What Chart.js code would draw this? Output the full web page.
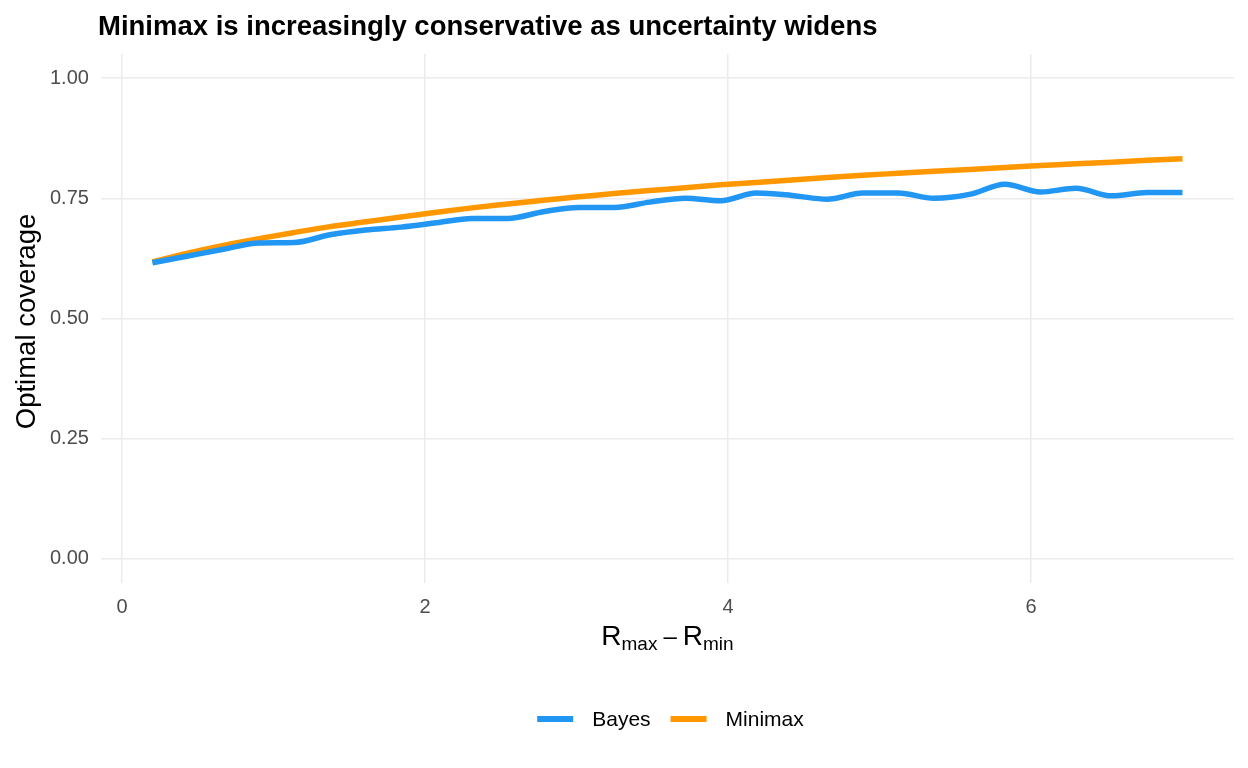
<!DOCTYPE html>
<html>
<head>
<meta charset="utf-8">
<script src="https://cdn.jsdelivr.net/npm/chart.js@4.4.1/dist/chart.umd.min.js"></script>
<style>
  html, body { margin: 0; padding: 0; background: #fff; }
  #wrap { position: relative; width: 1248px; height: 768px; }
</style>
</head>
<body>
<div id="wrap"><canvas id="chart" width="1248" height="768"></canvas></div>
<script>
// range of rewards (x) and optimal coverage per method
const rangeValues = [0.200, 0.434, 0.669, 0.903, 1.138, 1.372, 1.607, 1.841, 2.076, 2.310,
                     2.545, 2.779, 3.014, 3.248, 3.483, 3.717, 3.952, 4.186, 4.421, 4.655,
                     4.890, 5.124, 5.359, 5.593, 5.828, 6.062, 6.297, 6.531, 6.766, 7.000];
const bayesCoverage = [0.616, 0.630, 0.644, 0.657, 0.658, 0.674, 0.684, 0.690, 0.699, 0.708,
                       0.708, 0.722, 0.731, 0.731, 0.742, 0.750, 0.745, 0.761, 0.756, 0.748,
                       0.761, 0.761, 0.750, 0.758, 0.779, 0.763, 0.771, 0.755, 0.762, 0.762];
const minimaxCoverage = [0.618, 0.636, 0.652, 0.666, 0.679, 0.691, 0.701, 0.711, 0.721, 0.730,
                         0.738, 0.746, 0.753, 0.760, 0.766, 0.772, 0.778, 0.783, 0.788, 0.793,
                         0.798, 0.802, 0.806, 0.810, 0.814, 0.818, 0.822, 0.825, 0.829, 0.832];
const xTicks = [0, 2, 4, 6];
const yTicks = [0, 0.25, 0.5, 0.75, 1.0];

const FONT = '"Liberation Sans", Arial, sans-serif';

function toPoints(xs, ys) {
    return xs.map((x, i) => ({ x: x, y: ys[i] }));
}

// title, axis titles (x one has subscripts) and the bottom legend
const textPlugin = {
    id: 'textPlugin',
    afterDraw(chart) {
        const ctx = chart.ctx;
        const area = chart.chartArea;
        const mid = (area.left + area.right) / 2;
        ctx.save();
        ctx.fillStyle = '#000';
        ctx.textBaseline = 'alphabetic';
        ctx.textAlign = 'left';
        ctx.font = 'bold 27.5px ' + FONT;
        ctx.fillText('Minimax is increasingly conservative as uncertainty widens', 98, 35);

        // y title, rotated
        ctx.save();
        ctx.translate(27, (area.top + area.bottom) / 2 + 3);
        ctx.rotate(-Math.PI / 2);
        ctx.textAlign = 'center';
        ctx.textBaseline = 'middle';
        ctx.font = '27.5px ' + FONT;
        ctx.fillText('Optimal coverage', 0, 0);
        ctx.restore();

        // R_max - R_min
        const big = '28px ' + FONT, small = '19px ' + FONT, dash = '24px ' + FONT;
        const parts = [
            { t: 'R', f: big, dy: 0, pad: 0 },
            { t: 'max', f: small, dy: 5, pad: 0 },
            { t: '\u2013', f: dash, dy: -1, pad: 6 },
            { t: 'R', f: big, dy: 0, pad: 0 },
            { t: 'min', f: small, dy: 5, pad: 0 }
        ];
        let total = 0;
        parts.forEach(p => {
            ctx.font = p.f;
            p.w = ctx.measureText(p.t).width + 2 * p.pad;
            total += p.w;
        });
        let x = mid - total / 2;
        parts.forEach(p => {
            ctx.font = p.f;
            ctx.fillText(p.t, x + p.pad, 645 + p.dy);
            x += p.w;
        });

        // legend
        ctx.font = '21px ' + FONT;
        ctx.textBaseline = 'middle';
        const items = chart.data.datasets.map(ds => ({
            label: ds.label, color: ds.borderColor, w: ctx.measureText(ds.label).width
        }));
        const keyW = 36, gapText = 19, gapItem = 20;
        let legW = 0;
        items.forEach((it, i) => { legW += keyW + gapText + it.w + (i ? gapItem : 0); });
        let lx = mid - legW / 2 + 3;
        const ly = 719;
        items.forEach(it => {
            ctx.fillStyle = it.color;
            ctx.fillRect(lx, ly - 3, keyW, 6);
            ctx.fillStyle = '#000';
            ctx.fillText(it.label, lx + keyW + gapText, ly + 1);
            lx += keyW + gapText + it.w + gapItem;
        });
        ctx.restore();
    }
};

const ctx = document.getElementById('chart');
new Chart(ctx, {
    type: 'line',
    data: {
        datasets: [
            {
                label: 'Bayes',
                data: toPoints(rangeValues, bayesCoverage),
                borderColor: '#2196F3',
                backgroundColor: '#2196F3',
                borderWidth: 5.5,
                pointRadius: 0,
                cubicInterpolationMode: 'monotone'
            },
            {
                label: 'Minimax',
                data: toPoints(rangeValues, minimaxCoverage),
                borderColor: '#FF9800',
                backgroundColor: '#FF9800',
                borderWidth: 5.5,
                pointRadius: 0,
                cubicInterpolationMode: 'monotone'
            }
        ]
    },
    options: {
        responsive: false,
        animation: false,
        layout: { padding: { left: 38, right: 14, top: 54, bottom: 137 } },
        plugins: {
            title: { display: false },
            tooltip: { enabled: false },
            legend: { display: false }
        },
        scales: {
            x: {
                type: 'linear',
                min: -0.14,
                max: 7.34,
                afterBuildTicks: axis => { axis.ticks = xTicks.map(v => ({ value: v })); },
                grid: { color: '#ebebeb', lineWidth: 1.5, drawTicks: false },
                border: { display: false },
                ticks: {
                    color: '#4d4d4d',
                    font: { family: FONT, size: 20 },
                    padding: 12,
                    maxRotation: 0
                }
            },
            y: {
                min: -0.05,
                max: 1.05,
                afterBuildTicks: axis => { axis.ticks = yTicks.map(v => ({ value: v })); },
                grid: { color: '#ebebeb', lineWidth: 1.5, drawTicks: false },
                border: { display: false },
                ticks: {
                    color: '#4d4d4d',
                    font: { family: FONT, size: 20 },
                    padding: 12,
                    callback: v => v.toFixed(2)
                }
            }
        }
    },
    plugins: [textPlugin]
});
</script>
</body>
</html>
